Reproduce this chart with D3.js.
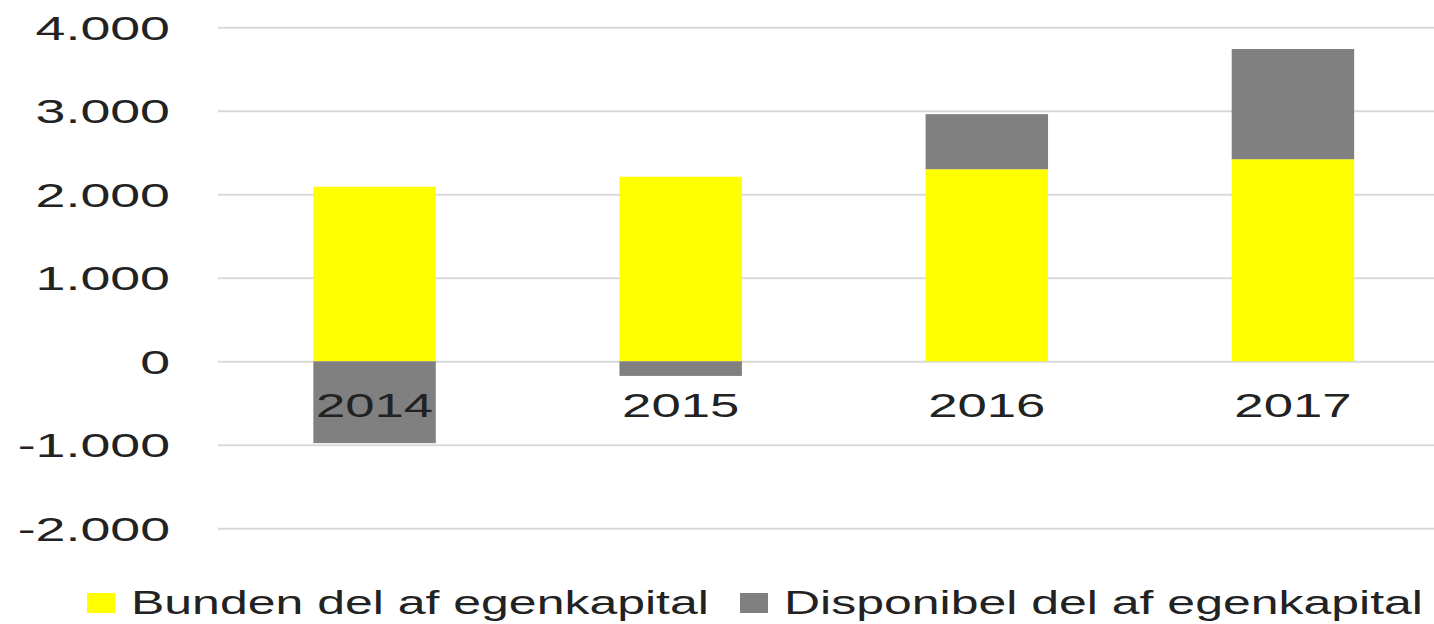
<!DOCTYPE html>
<html>
<head>
<meta charset="utf-8">
<script src="https://cdn.jsdelivr.net/npm/d3@7"></script>
<style>
  html, body { margin: 0; padding: 0; background: #fff; }
  svg { display: block; font-family: "Liberation Sans", Arial, sans-serif; }
</style>
</head>
<body>
<div id="chart"></div>
<script>
// chart data
const years = ['2014', '2015', '2016', '2017'];
const bunden = [2090, 2210, 2300, 2420];
const disponibel = [-980, -175, 660, 1320];
const yTicks = [-2000, -1000, 0, 1000, 2000, 3000, 4000];
const seriesNames = ['Bunden del af egenkapital', 'Disponibel del af egenkapital'];
const seriesColors = ['#ffff00', '#808080'];

const width = 1434, height = 624;
const plotLeft = 218;
const textColor = '#222';

const svg = d3.select('#chart')
  .append('svg')
  .attr('width', width)
  .attr('height', height);

// scales
const x = d3.scaleBand()
  .domain(years)
  .range([221.5, 1446])
  .paddingInner(0.6)
  .paddingOuter(0.3);

const y = d3.scaleLinear()
  .domain([-2000, 4000])
  .range([528.3, 27.3]);

// danish number format: dot as thousands separator, plain hyphen for minus
const fmt = d => d3.format(',')(d).replace(/,/g, '.').replace('\u2212', '-');

// Y axis with gridlines
const yAxis = svg.append('g')
  .attr('transform', `translate(${plotLeft},0)`)
  .call(d3.axisLeft(y)
    .tickValues(yTicks)
    .tickSize(-(width - plotLeft))
    .tickFormat(fmt));

yAxis.select('.domain').remove();
yAxis.selectAll('.tick line')
  .attr('stroke', '#d9d9d9')
  .attr('stroke-width', 2);
yAxis.selectAll('.tick text')
  .attr('x', 0)
  .attr('dy', 0)
  .attr('transform', 'translate(-48,12) scale(1.58,1)')
  .attr('text-anchor', 'end')
  .attr('fill', textColor)
  .style('font-size', '34px');

// stacked bars
const rows = years.map((yr, i) => ({ year: yr, bunden: bunden[i], disponibel: disponibel[i] }));
const stacked = d3.stack()
  .keys(['bunden', 'disponibel'])
  .offset(d3.stackOffsetDiverging)(rows);

svg.append('g')
  .selectAll('g')
  .data(stacked)
  .enter()
  .append('g')
  .attr('fill', (d, i) => seriesColors[i])
  .selectAll('rect')
  .data(d => d)
  .enter()
  .append('rect')
  .attr('x', d => x(d.data.year))
  .attr('y', d => y(Math.max(d[0], d[1])))
  .attr('width', x.bandwidth())
  .attr('height', d => Math.abs(y(d[0]) - y(d[1])));

// X axis labels (drawn over the bars)
const xAxis = svg.append('g')
  .attr('transform', `translate(0,${y(0)})`)
  .call(d3.axisBottom(x).tickSize(0));

xAxis.select('.domain').remove();
xAxis.selectAll('.tick text')
  .attr('y', 0)
  .attr('dy', 0)
  .attr('transform', 'translate(0,56) scale(1.55,1)')
  .attr('fill', textColor)
  .style('font-size', '34px');

// legend
const legendX = [87, 740];
const legend = svg.append('g')
  .selectAll('g')
  .data(seriesNames)
  .enter()
  .append('g')
  .attr('transform', (d, i) => `translate(${legendX[i]},593)`);

legend.append('rect')
  .attr('width', 28)
  .attr('height', 20)
  .attr('fill', (d, i) => seriesColors[i]);

legend.append('text')
  .attr('transform', 'translate(44,21) scale(1.47,1)')
  .attr('fill', textColor)
  .style('font-size', '34px')
  .text(d => d);
</script>
</body>
</html>
